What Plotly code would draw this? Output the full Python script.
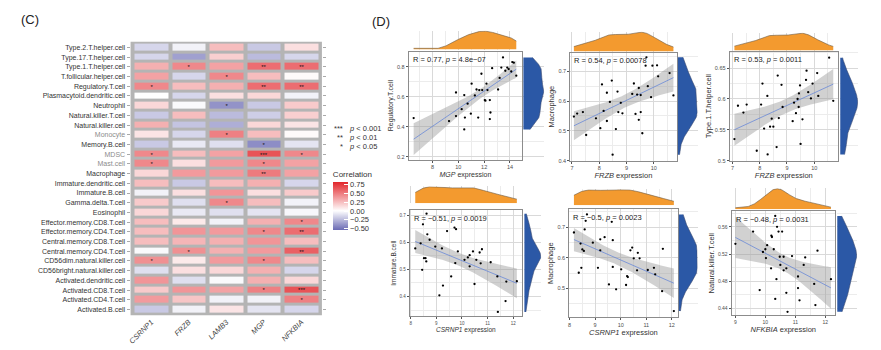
import numpy as np
import plotly.graph_objects as go

W, H = 881, 350
FONT = "Liberation Sans"

# ---------------- heatmap data ----------------
genes = ["CSRNP1", "FRZB", "LAMB3", "MGP", "NFKBIA"]
cells = ["Type.2.T.helper.cell", "Type.17.T.helper.cell", "Type.1.T.helper.cell",
         "T.follicular.helper.cell", "Regulatory.T.cell", "Plasmacytoid.dendritic.cell",
         "Neutrophil", "Natural.killer.T.cell", "Natural.killer.cell", "Monocyte",
         "Memory.B.cell", "MDSC", "Mast.cell", "Macrophage", "Immature.dendritic.cell",
         "Immature.B.cell", "Gamma.delta.T.cell", "Eosinophil", "Effector.memory.CD8.T.cell",
         "Effector.memory.CD4.T.cell", "Central.memory.CD8.T.cell", "Central.memory.CD4.T.cell",
         "CD56dim.natural.killer.cell", "CD56bright.natural.killer.cell",
         "Activated.dendritic.cell", "Activated.CD8.T.cell", "Activated.CD4.T.cell",
         "Activated.B.cell"]
gray_labels = ["Monocyte", "MDSC", "Mast.cell"]
corr = [
    [-0.15, -0.05, 0.25, -0.20, 0.12],
    [-0.15, -0.35, 0.18, -0.25, -0.15],
    [0.30, 0.45, 0.35, 0.55, 0.55],
    [0.35, -0.15, 0.45, 0.25, 0.02],
    [0.45, 0.25, 0.30, 0.55, 0.55],
    [0.00, -0.15, 0.12, 0.15, -0.05],
    [0.15, -0.02, -0.40, -0.20, 0.20],
    [-0.20, 0.25, -0.25, -0.18, 0.18],
    [0.30, -0.22, -0.30, 0.15, 0.10],
    [0.10, -0.15, 0.48, 0.25, 0.02],
    [-0.20, -0.08, -0.12, -0.42, -0.10],
    [0.45, 0.25, 0.35, 0.65, 0.45],
    [0.45, 0.12, 0.38, 0.45, 0.35],
    [0.15, 0.38, 0.38, 0.50, 0.35],
    [0.25, -0.20, 0.25, 0.30, -0.15],
    [-0.05, 0.12, 0.40, 0.12, 0.20],
    [0.20, -0.12, 0.45, 0.25, -0.05],
    [0.15, -0.08, -0.12, -0.10, -0.03],
    [0.25, 0.08, -0.05, 0.30, 0.45],
    [0.25, 0.40, 0.38, 0.45, 0.55],
    [0.25, 0.28, 0.30, 0.40, 0.25],
    [-0.02, 0.42, 0.30, 0.38, 0.60],
    [0.42, 0.08, 0.38, 0.45, 0.25],
    [-0.12, 0.12, 0.15, 0.30, -0.15],
    [0.40, -0.12, -0.02, 0.30, 0.15],
    [0.20, 0.40, 0.35, 0.48, 0.65],
    [0.38, 0.22, -0.05, -0.05, 0.48],
    [-0.20, -0.05, 0.10, -0.10, -0.15],
]
stars = [
    ["", "", "", "", ""],
    ["", "", "", "", ""],
    ["", "*", "", "**", "**"],
    ["", "", "*", "", ""],
    ["*", "", "", "**", "**"],
    ["", "", "", "", ""],
    ["", "", "*", "", ""],
    ["", "", "", "", ""],
    ["", "", "", "", ""],
    ["", "", "*", "", ""],
    ["", "", "", "*", ""],
    ["*", "", "", "***", "*"],
    ["*", "", "", "*", ""],
    ["", "", "", "**", ""],
    ["", "", "", "", ""],
    ["", "", "", "", ""],
    ["", "", "*", "", ""],
    ["", "", "", "", ""],
    ["", "", "", "", "*"],
    ["", "", "", "*", "**"],
    ["", "", "", "", ""],
    ["", "*", "", "", "**"],
    ["*", "", "", "*", ""],
    ["", "", "", "", ""],
    ["", "", "", "", ""],
    ["", "", "", "*", "***"],
    ["", "", "", "", "*"],
    ["", "", "", "", ""],
]
cbar_ticks = [0.75, 0.50, 0.25, 0.00, -0.25, -0.50]

# ---------------- scatter data ----------------
p1_x = [6.54, 9.28, 9.82, 9.82, 10.26, 10.46, 10.46, 10.51, 10.72, 10.97, 11.03, 11.28,
        11.41, 11.54, 11.62, 11.79, 11.85, 12.05, 12.10, 12.18, 12.26, 12.44, 12.44, 12.49,
        12.62, 13.08, 13.20, 13.33, 13.46, 13.64, 13.79, 13.90, 14.10, 14.18, 14.30, 14.49]
p1_y = [0.457, 0.437, 0.470, 0.627, 0.516, 0.381, 0.610, 0.460, 0.553, 0.486, 0.686, 0.608,
        0.647, 0.460, 0.643, 0.752, 0.643, 0.577, 0.573, 0.686, 0.643, 0.577, 0.450, 0.494,
        0.789, 0.647, 0.724, 0.793, 0.861, 0.772, 0.793, 0.783, 0.767, 0.830, 0.826, 0.739]

p2_x = [7.07, 7.19, 7.40, 7.52, 7.88, 8.04, 8.10, 8.16, 8.28, 8.28, 8.39, 8.46, 8.49, 8.61,
        8.67, 8.70, 8.79, 8.85, 9.21, 9.27, 9.33, 9.39, 9.45, 9.45, 9.52, 9.52, 9.58, 9.70,
        9.73, 9.78, 9.90, 9.95, 10.12, 10.16, 10.58, 10.72]
p2_y = [0.548, 0.558, 0.563, 0.486, 0.542, 0.509, 0.656, 0.567, 0.533, 0.628, 0.597, 0.669,
        0.420, 0.506, 0.632, 0.563, 0.594, 0.559, 0.624, 0.659, 0.557, 0.622, 0.644, 0.537,
        0.620, 0.563, 0.492, 0.719, 0.747, 0.650, 0.613, 0.719, 0.720, 0.683, 0.694, 0.619]

p3_x = [7.07, 7.20, 7.40, 7.52, 7.89, 8.05, 8.10, 8.16, 8.28, 8.29, 8.38, 8.44, 8.50, 8.62,
        8.66, 8.70, 8.80, 8.84, 9.21, 9.26, 9.33, 9.39, 9.43, 9.44, 9.48, 9.50, 9.57, 9.70,
        9.72, 9.78, 9.88, 9.94, 10.11, 10.15, 10.55, 10.70]
p3_y = [0.535, 0.589, 0.578, 0.591, 0.516, 0.591, 0.625, 0.552, 0.605, 0.510, 0.555, 0.568,
        0.555, 0.522, 0.638, 0.569, 0.623, 0.587, 0.564, 0.594, 0.577, 0.600, 0.587, 0.609,
        0.622, 0.527, 0.567, 0.631, 0.646, 0.611, 0.601, 0.625, 0.642, 0.605, 0.667, 0.597]

p4_x = [8.18, 8.39, 8.45, 8.48, 8.52, 8.58, 8.61, 8.62, 8.65, 8.74, 8.96, 9.12, 9.22, 9.26,
        9.42, 9.58, 9.71, 9.77, 9.74, 9.84, 10.10, 10.23, 10.30, 10.30, 10.43, 10.49, 10.56,
        10.69, 10.73, 10.78, 11.12, 11.38, 11.40, 11.70, 11.73, 12.14]
p4_y = [0.577, 0.596, 0.498, 0.666, 0.541, 0.541, 0.529, 0.705, 0.629, 0.609, 0.584, 0.404,
        0.577, 0.440, 0.641, 0.474, 0.654, 0.648, 0.523, 0.566, 0.535, 0.544, 0.552, 0.511,
        0.566, 0.446, 0.535, 0.562, 0.522, 0.574, 0.526, 0.474, 0.343, 0.383, 0.455, 0.456]

p5_x = [8.17, 8.36, 8.43, 8.46, 8.50, 8.56, 8.59, 8.63, 8.68, 8.91, 9.11, 9.20, 9.20, 9.37,
        9.54, 9.65, 9.69, 9.69, 9.82, 10.02, 10.21, 10.25, 10.28, 10.38, 10.45, 10.51, 10.64,
        10.67, 10.74, 11.06, 11.30, 11.35, 11.65, 11.62, 12.08]
p5_y = [0.682, 0.551, 0.646, 0.567, 0.627, 0.622, 0.692, 0.720, 0.741, 0.649, 0.567, 0.660,
        0.624, 0.667, 0.513, 0.717, 0.657, 0.570, 0.497, 0.562, 0.511, 0.540, 0.537, 0.624,
        0.633, 0.598, 0.559, 0.616, 0.598, 0.560, 0.567, 0.546, 0.629, 0.491, 0.426]

p6_x = [9.00, 9.59, 9.81, 9.92, 10.00, 10.02, 10.06, 10.19, 10.20, 10.22, 10.28, 10.33,
        10.37, 10.39, 10.44, 10.48, 10.50, 10.56, 10.61, 10.61, 10.70, 10.70, 10.74, 10.89,
        11.09, 11.09, 11.14, 11.28, 11.33, 11.63, 11.67, 11.74, 12.19, 10.33]
p6_y = [0.535, 0.553, 0.467, 0.523, 0.527, 0.514, 0.533, 0.499, 0.547, 0.545, 0.527, 0.454,
        0.483, 0.560, 0.553, 0.516, 0.504, 0.553, 0.516, 0.496, 0.499, 0.463, 0.435, 0.517,
        0.487, 0.470, 0.452, 0.504, 0.515, 0.476, 0.445, 0.525, 0.483, 0.576]

gene_x = ["MGP", "FRZB", "FRZB", "CSRNP1", "CSRNP1", "NFKBIA"]
cell_y = ["Regulatory.T.cell", "Macrophage", "Type.1.T.helper.cell",
          "Immature.B.cell", "Macrophage", "Natural.killer.T.cell"]
stat_text = ["R = 0.77, <i>p</i> = 4.8e\u221207", "R = 0.54, <i>p</i> = 0.00078",
             "R = 0.53, <i>p</i> = 0.0011", "R = \u22120.51, <i>p</i> = 0.0019",
             "R = \u22120.5, <i>p</i> = 0.0023", "R = \u22120.48, <i>p</i> = 0.0031"]
xs = [p1_x, p2_x, p3_x, p4_x, p5_x, p6_x]
ys = [p1_y, p2_y, p3_y, p4_y, p5_y, p6_y]

# ---------------- layout geometry (pixels) ----------------
panels = [
    dict(px=(407, 521), py=(52, 161), top=(31, 50), right=(522, 543), xr=[6.15, 14.95], yr=[0.18, 0.90], dx=2, mx=1, dy=0.2, my=0.1, tf=5.5, ttl=7),
    dict(px=(569, 676), py=(53, 162), top=(32, 52), right=(677, 697), xr=[6.93, 10.84], yr=[0.40, 0.763], dx=1, mx=0.5, dy=0.1, my=0.05, tf=5.5, ttl=7.5),
    dict(px=(729, 838), py=(52, 162), top=(33, 51), right=(840, 858), xr=[6.89, 10.88], yr=[0.50, 0.677], dx=1, mx=0.5, dy=0.05, my=0.025, tf=5.5, ttl=7.5),
    dict(px=(408, 521), py=(212, 319), top=(188, 205), right=(523, 540), xr=[7.96, 12.35], yr=[0.327, 0.718], dx=1, mx=0.5, dy=0.1, my=0.05, tf=4.5, ttl=6.5),
    dict(px=(568, 677), py=(211, 320), top=(191, 207), right=(678, 697), xr=[7.98, 12.23], yr=[0.406, 0.758], dx=1, mx=0.5, dy=0.1, my=0.05, tf=5.5, ttl=7.5),
    dict(px=(731, 835), py=(213, 318), top=(190, 211), right=(837, 857), xr=[8.87, 12.33], yr=[0.43, 0.583], dx=1, mx=0.5, dy=0.04, my=0.02, tf=5, ttl=7.5),
]


def fx(p):
    return p / W


def fy(p):
    return 1 - p / H


def kde(v, n=200):
    v = np.asarray(v, float)
    sd = v.std(ddof=1)
    q75, q25 = np.percentile(v, [75, 25])
    bw = 0.9 * min(sd, (q75 - q25) / 1.34) * len(v) ** -0.2
    g = np.linspace(v.min(), v.max(), n)
    d = np.exp(-0.5 * ((g[:, None] - v[None, :]) / bw) ** 2).sum(1) / (len(v) * bw * np.sqrt(2 * np.pi))
    return g, d


def lmfit(x, y, n=80, t=2.03):
    x = np.asarray(x, float)
    y = np.asarray(y, float)
    b1, b0 = np.polyfit(x, y, 1)
    g = np.linspace(x.min(), x.max(), n)
    yh = b0 + b1 * g
    res = y - (b0 + b1 * x)
    s = np.sqrt((res ** 2).sum() / (len(x) - 2))
    se = s * np.sqrt(1 / len(x) + (g - x.mean()) ** 2 / ((x - x.mean()) ** 2).sum())
    return g, yh, yh - t * se, yh + t * se


fig = go.Figure()
layout = dict(
    width=W, height=H, margin=dict(l=0, r=0, t=0, b=0),
    paper_bgcolor="white", plot_bgcolor="white",
    font=dict(family=FONT, color="#333333"),
    showlegend=False,
)

# ---------------- heatmap ----------------
ylabels = [f"<span style='color:#8c8c8c'>{c}</span>" if c in gray_labels else c for c in cells]
fig.add_trace(go.Heatmap(
    z=corr, x=list(range(len(genes))), y=list(range(len(cells))),
    text=stars, texttemplate="%{text}", textfont=dict(size=6, color="#111111"),
    zmin=-0.55, zmax=0.82,
    colorscale=[[0, "#6a6ab4"], [0.401, "#ffffff"], [1, "#e2262b"]],
    xgap=4, ygap=3, hoverinfo="skip",
    colorbar=dict(x=fx(331), xanchor="left", xpad=0, y=fy(201), yanchor="middle", ypad=0,
                  len=62, lenmode="pixels", thickness=15, thicknessmode="pixels",
                  tickvals=cbar_ticks, ticktext=[f"{v:.2f}".replace("-", "\u2212") for v in cbar_ticks],
                  ticks="inside", tickcolor="white", ticklen=4, outlinewidth=0,
                  tickfont=dict(size=7.5, color="#333333", family=FONT),
                  title=dict(text="Correlation", side="top", font=dict(size=8, color="#333333"))),
    xaxis="x", yaxis="y",
))
layout["xaxis"] = dict(domain=[fx(128), fx(320)], anchor="y", range=[-0.55, 4.55],
                       tickvals=list(range(len(genes))), ticktext=[f"<i>{g}</i>" for g in genes],
                       tickangle=-45, tickfont=dict(size=7.5, color="#444444"),
                       showgrid=False, zeroline=False, ticks="", showline=False)
layout["yaxis"] = dict(domain=[fy(318), fy(42)], anchor="x", range=[27.6, -0.6],
                       tickvals=list(range(len(cells))), ticktext=ylabels,
                       tickfont=dict(size=7, color="#333333"),
                       showgrid=False, zeroline=False, ticks="outside", ticklen=3,
                       tickcolor="#aaaaaa", showline=False, mirror="ticks")
shapes = [dict(type="rect", xref="paper", yref="paper", x0=fx(128), x1=fx(320),
               y0=fy(318), y1=fy(42), fillcolor="#b4b4b4", line=dict(width=0), layer="below")]

annotations = [
    dict(text="(C)", x=fx(16), y=fy(20), xref="paper", yref="paper", xanchor="left",
         yanchor="middle", showarrow=False, font=dict(size=13, color="#222222")),
    dict(text="(D)", x=fx(368), y=fy(22), xref="paper", yref="paper", xanchor="left",
         yanchor="middle", showarrow=False, font=dict(size=13, color="#222222")),
]
for i, (st, lab) in enumerate([("***", "<i>p</i> < 0.001"), ("**", "<i>p</i> < 0.01"), ("*", "<i>p</i> < 0.05")]):
    yy = fy(130 + i * 8.7)
    annotations.append(dict(text=st, x=fx(343), y=yy, xref="paper", yref="paper", xanchor="right",
                            yanchor="middle", showarrow=False, font=dict(size=7.5, color="#333333")))
    annotations.append(dict(text=lab, x=fx(345), y=yy, xref="paper", yref="paper", xanchor="left",
                            yanchor="middle", showarrow=False, font=dict(size=7.5, color="#333333")))

# ---------------- scatter panels ----------------
for i, P in enumerate(panels):
    mi = 2 + 2 * i
    ei = 3 + 2 * i
    xa, ya = f"x{mi}", f"y{mi}"
    xe, ye = f"x{ei}", f"y{ei}"
    x, y = xs[i], ys[i]

    g, yh, lo, hi = lmfit(x, y)
    fig.add_trace(go.Scatter(x=g, y=lo, mode="lines", line=dict(width=0), xaxis=xa, yaxis=ya, hoverinfo="skip"))
    fig.add_trace(go.Scatter(x=g, y=hi, mode="lines", line=dict(width=0), fill="tonexty",
                             fillcolor="rgba(153,153,153,0.45)", xaxis=xa, yaxis=ya, hoverinfo="skip"))
    fig.add_trace(go.Scatter(x=g, y=yh, mode="lines", line=dict(color="#5b80d8", width=0.7),
                             xaxis=xa, yaxis=ya, hoverinfo="skip"))
    fig.add_trace(go.Scatter(x=x, y=y, mode="markers", marker=dict(color="black", size=2.3),
                             xaxis=xa, yaxis=ya, hoverinfo="skip"))

    gx, dx_ = kde(x)
    fig.add_trace(go.Scatter(x=gx, y=dx_, mode="lines", fill="tozeroy", fillcolor="#F39A2F",
                             line=dict(color="#6b5a45", width=0.6), xaxis=xa, yaxis=ye, hoverinfo="skip"))
    gy, dy_ = kde(y)
    fig.add_trace(go.Scatter(x=dy_, y=gy, mode="lines", fill="tozerox", fillcolor="#2B58A6",
                             line=dict(color="#3a4a70", width=0.6), xaxis=xe, yaxis=ya, hoverinfo="skip"))

    axstyle = dict(showgrid=True, gridcolor="#d9d9d9", gridwidth=0.6, zeroline=False,
                   showline=True, linecolor="#8c8c8c", linewidth=0.8, mirror=True,
                   ticks="outside", ticklen=2, tickcolor="#555555", tickwidth=0.6,
                   tickfont=dict(size=P["tf"], color="#4d4d4d"))
    layout[f"xaxis{mi}"] = dict(domain=[fx(P["px"][0]), fx(P["px"][1])], anchor=ya, range=P["xr"],
                                dtick=P["dx"], tick0=0,
                                minor=dict(dtick=P["mx"], tick0=0, showgrid=True, gridcolor="#ececec", gridwidth=0.4),
                                title=dict(text=f"<i>{gene_x[i]}</i> expression", standoff=2,
                                           font=dict(size=P["ttl"], color="#333333")),
                                **axstyle)
    layout[f"yaxis{mi}"] = dict(domain=[fy(P["py"][1]), fy(P["py"][0])], anchor=xa, range=P["yr"],
                                dtick=P["dy"], tick0=0,
                                minor=dict(dtick=P["my"], tick0=0, showgrid=True, gridcolor="#ececec", gridwidth=0.4),
                                title=dict(text=cell_y[i], standoff=2,
                                           font=dict(size=P["ttl"], color="#333333")),
                                **axstyle)
    layout[f"yaxis{ei}"] = dict(domain=[fy(P["top"][1]), fy(P["top"][0])], anchor=xa,
                                range=[0, float(dx_.max()) * 1.02], visible=False)
    layout[f"xaxis{ei}"] = dict(domain=[fx(P["right"][0]), fx(P["right"][1])], anchor=ya,
                                range=[0, float(dy_.max()) * 1.02], visible=False)
    annotations.append(dict(text=stat_text[i], xref=f"{xa} domain", yref=f"{ya} domain",
                            x=0.02, y=0.985, xanchor="left", yanchor="top", showarrow=False,
                            font=dict(size=7.5, color="#222222")))

layout["shapes"] = shapes
layout["annotations"] = annotations
fig.update_layout(**layout)
fig.write_html("out.html")
